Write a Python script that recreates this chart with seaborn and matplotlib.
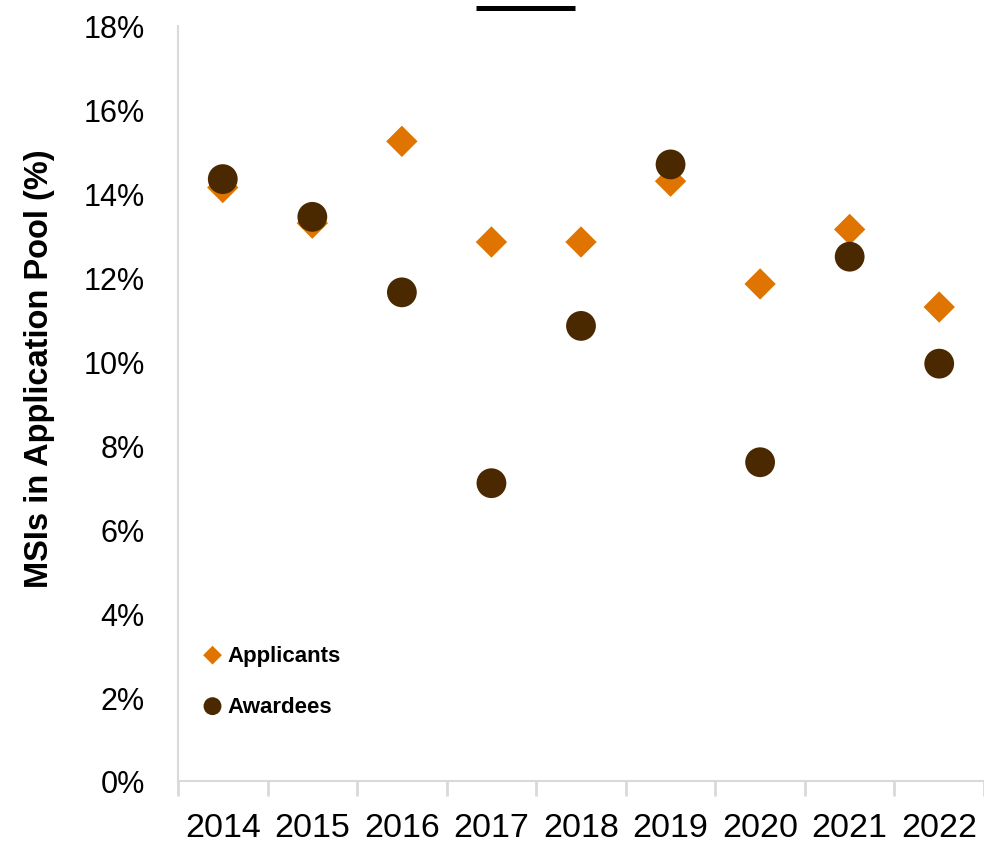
import matplotlib
matplotlib.use("Agg")
import matplotlib.pyplot as plt
from matplotlib.lines import Line2D
from matplotlib.ticker import FixedLocator, PercentFormatter
import seaborn as sns
import pandas as pd

years = ["2014", "2015", "2016", "2017", "2018", "2019", "2020", "2021", "2022"]
applicants = [14.15, 13.3, 15.25, 12.85, 12.85, 14.3, 11.85, 13.15, 11.3]
awardees = [14.35, 13.45, 11.65, 7.1, 10.85, 14.7, 7.6, 12.5, 9.95]

df = pd.DataFrame({
    "year": years * 2,
    "value": applicants + awardees,
    "group": ["Applicants"] * len(years) + ["Awardees"] * len(years),
})

sns.set_style("white")
plt.rcParams["font.family"] = ["Liberation Sans", "DejaVu Sans"]
plt.rcParams["text.color"] = "black"
plt.rcParams["xtick.color"] = "black"
plt.rcParams["ytick.color"] = "black"
plt.rcParams["axes.labelcolor"] = "black"

fig = plt.figure(figsize=(9.84, 8.45), dpi=100)
ax = fig.add_axes([178 / 984, 63 / 845, 806 / 984, 755 / 845])

orange = "#DF7500"
brown = "#4A2800"

sns.scatterplot(data=df[df.group == "Applicants"], x="year", y="value", ax=ax,
                marker="D", s=255, color=orange, edgecolor="none", label="Applicants",
                zorder=3)
sns.scatterplot(data=df[df.group == "Awardees"], x="year", y="value", ax=ax,
                marker="o", s=460, color=brown, edgecolor="none", label="Awardees",
                zorder=4)

ax.set_xlim(-0.5, len(years) - 0.5)
ax.set_ylim(0, 18)
ax.set_yticks(range(0, 19, 2))
ax.yaxis.set_major_formatter(PercentFormatter(decimals=0))
ax.set_xticks(range(len(years)))
ax.set_xticklabels(years)
ax.xaxis.set_minor_locator(FixedLocator([i - 0.5 for i in range(len(years) + 1)]))

ax.tick_params(axis="x", which="major", length=0, labelsize=24.5, pad=22)
ax.tick_params(axis="x", which="minor", length=11, width=2, color="#d9d9d9", bottom=True)
ax.tick_params(axis="y", length=0, labelsize=22, pad=24)

for side in ["top", "right"]:
    ax.spines[side].set_visible(False)
for side in ["left", "bottom"]:
    ax.spines[side].set_color("#d9d9d9")
    ax.spines[side].set_linewidth(1.5)

ax.set_xlabel("")
ax.set_ylabel("MSIs in Application Pool (%)", fontsize=23.5, fontweight="bold")
ax.yaxis.set_label_coords(-0.153, 0.547)

leg = ax.legend(loc="lower left", bbox_to_anchor=(0.018, 0.073), frameon=False,
                prop={"weight": "bold", "size": 16}, handletextpad=0.15,
                handlelength=1.0, labelspacing=1.35, markerscale=0.6, borderaxespad=0)

# underline of the cut-off title at the top edge
fig.add_artist(Line2D([476 / 984, 575 / 984], [1 - 8.5 / 845, 1 - 8.5 / 845],
                      color="black", linewidth=3.6, solid_capstyle="butt"))

fig.savefig("out.png", dpi=100)
